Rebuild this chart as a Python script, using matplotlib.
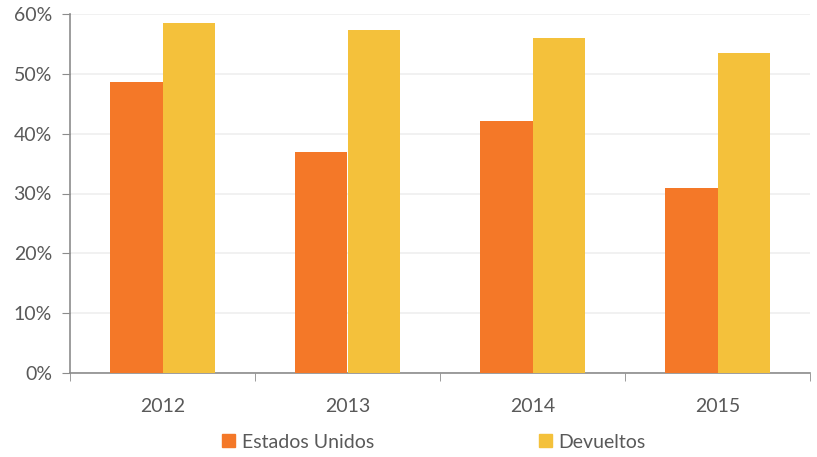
import matplotlib
matplotlib.use("Agg")
import matplotlib.pyplot as plt
import numpy as np
from matplotlib.patches import Patch

years = ["2012", "2013", "2014", "2015"]
estados_unidos = [48.7, 36.9, 42.2, 31.0]
devueltos = [58.5, 57.3, 56.0, 53.5]
y_ticks = [0, 10, 20, 30, 40, 50, 60]

orange = "#F47828"
yellow = "#F4C13B"
text_color = "#595959"
axis_color = "#8C8C8C"

plt.rcParams['font.family'] = ['Lato', 'DejaVu Sans']

fig = plt.figure(figsize=(8.17, 4.57), dpi=100)
ax = fig.add_axes([70/817, 1-373/457, (810-70)/817, (373-14)/457])

x = np.arange(len(years))
w = 0.285
ax.bar(x - w/2, estados_unidos, width=w, color=orange, zorder=3)
ax.bar(x + w/2, devueltos, width=w, color=yellow, zorder=3)

ax.set_xlim(-0.5, len(years) - 0.5)
ax.set_ylim(0, 60)
ax.set_yticks(y_ticks)
ax.set_yticklabels([f"{v}%" for v in y_ticks])
ax.yaxis.grid(True, color="#EFEFEF", linewidth=1.2, zorder=0)
ax.set_axisbelow(True)

ax.set_xticks(x)
ax.set_xticklabels(years)
ax.set_xticks(np.arange(-0.5, len(years)), minor=True)
ax.tick_params(axis='x', which='major', length=0, pad=18, labelsize=14, labelcolor=text_color)
ax.tick_params(axis='x', which='minor', length=6, color=axis_color, direction='out')
ax.tick_params(axis='y', length=6, color=axis_color, labelsize=14, labelcolor=text_color, pad=7)

for s in ['top', 'right']:
    ax.spines[s].set_visible(False)
for s in ['left', 'bottom']:
    ax.spines[s].set_color(axis_color)
    ax.spines[s].set_linewidth(1.2)

handles = [Patch(color=orange, label="Estados Unidos"), Patch(color=yellow, label="Devueltos")]
fig.legend(handles=handles, loc='center', bbox_to_anchor=(434/817, 1-442/457), ncol=2,
           frameon=False, fontsize=14, labelcolor=text_color, handlelength=0.65,
           handleheight=0.65, handletextpad=0.35, columnspacing=8.5)

fig.savefig("out.png", dpi=100)
